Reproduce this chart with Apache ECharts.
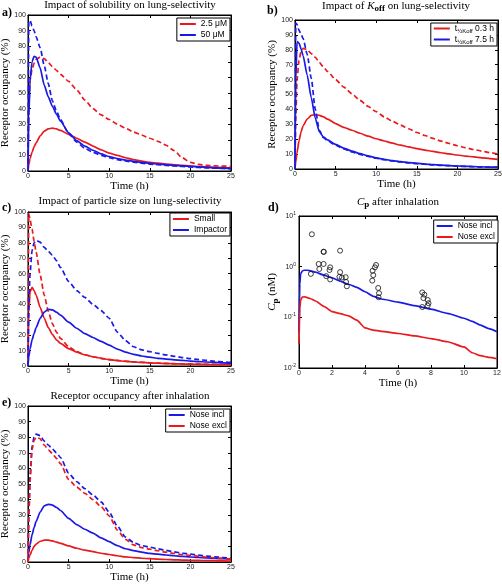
<!DOCTYPE html>
<html><head><meta charset="utf-8">
<script src="https://cdn.jsdelivr.net/npm/echarts@6/dist/echarts.min.js"></script>
<style>html,body{margin:0;padding:0;background:#fff}#c{width:502px;height:585px}</style>
</head><body><div id="c"></div>
<script>
// ---------- DATA ----------
const timeH = [0,0.1,0.25,0.5,0.75,1,1.5,2,2.5,3,3.5,4,5,6,7,8,9,10,11,12,13,14,15,16,17,18,19,20,21,22,23,24,25];
const timeTicks25 = [0,5,10,15,20,25];
const occTicks = [0,10,20,30,40,50,60,70,80,90,100];

// a) solubility
const aRedSolid  = [0,4,8,12,15.5,18,22.5,25.5,27,27.5,27,26,23.5,21,18.5,16,13.5,11.5,10,8.5,7.3,6.3,5.5,5,4.4,4,3.6,3.2,2.9,2.6,2.4,2.2,2];
const aRedDash   = [0,40,58,65,69,71.5,73,72,69.5,67,64.5,62,57.5,52,45.5,40,36,33,30,27.5,25,23,21,19,16.5,13,8.5,5.5,4.2,3.6,3.3,3.1,3];
const aBlueSolid = [0,35,58,70,73.5,73,66,55,47.5,41.5,36.5,32,24.5,19.5,16,13.3,11,9.3,8,7,6.2,5.5,4.9,4.4,4,3.6,3.3,3,2.6,2.3,2,1.8,1.6];
const aBlueDash  = [0,96,96.5,93,90,86,79,67.5,56,45,38.5,33,24,18.5,14.5,12,10,8.5,7.3,6.4,5.6,5,4.4,4,3.6,3.2,2.9,2.6,2.3,2,1.8,1.6,1.4];

// b) Koff
const bRedSolid  = [0,5,11,19,25,29,33.5,36,36.5,36,35,33.5,30.5,28,26,24,22,20.3,18.8,17.3,16,14.8,13.7,12.7,11.8,10.9,10.1,9.4,8.7,8.1,7.5,7,6.5];
const bRedDash   = [0,35,60,73,79,81,80,77.5,75,71.5,68.5,65.5,60,55,50.5,46,42,38.5,35,32,29.5,27,24.5,22.5,20.5,18.7,17.1,15.6,14.3,13.1,12,11,10];
const bBlueSolid = [0,60,85.5,84.5,80.5,76,63,48,34,25,21.5,19.5,16.5,14,12,10.3,8.8,7.5,6.5,5.6,4.9,4.3,3.8,3.3,2.9,2.6,2.3,2,1.8,1.6,1.4,1.3,1.2];
const bBlueDash  = [0,98,97,93,90.5,87.5,77,61,40,26,21,19,16,13.5,11.5,9.8,8.4,7.2,6.2,5.4,4.7,4.1,3.6,3.2,2.8,2.5,2.2,1.9,1.7,1.5,1.3,1.2,1.1];

// c) particle size
const cRedSolid  = [0,35,48,51,49,46,38,31,25,20.5,17,14.7,11.3,9,7.3,6,5,4.1,3.5,3,2.6,2.3,2,1.8,1.6,1.4,1.3,1.2,1.1,1,0.9,0.8,0.8];
const cRedDash   = [0,99,95,89,81,74,59,46,35.5,27.5,22,18,12.5,9.3,7.3,6,5,4.2,3.6,3.1,2.7,2.4,2.1,1.9,1.7,1.5,1.4,1.3,1.2,1.1,1,0.9,0.8];
const cBlueSolid = [0,6,11,17,21,25,31,35,36.8,36.5,35,33,28.5,24.5,21,18.5,16,13.5,11,9,7.6,6.5,5.7,5,4.5,4,3.6,3.2,2.9,2.6,2.3,2,1.8];
const cBlueDash  = [0,40,60,75,80,81.5,80.5,77,74.5,72,68.5,64,55,49,44.5,40,36,31,22,16.5,12.5,10.5,9.3,8.2,7.2,6.3,5.5,4.8,4.2,3.6,3.1,2.7,2.3];

// d) Cp after inhalation (log scale)
const dTime      = [0,0.05,0.1,0.2,0.3,0.5,0.75,1,1.5,2,2.5,3,3.5,4,4.5,5,6,7,8,9,10,10.5,11,11.5,12];
const dNoseIncl  = [0.05,0.45,0.72,0.82,0.85,0.85,0.82,0.78,0.68,0.6,0.52,0.45,0.39,0.32,0.26,0.23,0.2,0.17,0.145,0.12,0.096,0.083,0.07,0.06,0.052];
const dNoseExcl  = [0.03,0.15,0.22,0.25,0.255,0.245,0.23,0.21,0.165,0.13,0.118,0.107,0.088,0.062,0.056,0.053,0.048,0.043,0.038,0.033,0.026,0.02,0.0175,0.0162,0.0152];
const dObsTime   = [0.78,0.72,1.19,1.23,1.49,1.5,1.49,1.65,1.89,1.85,1.89,2.49,2.49,2.45,2.6,2.83,2.85,2.9,4.46,4.5,4.44,4.6,4.67,4.8,4.85,4.82,7.47,7.6,7.54,7.8,7.85,7.8,7.47];
const dObsConc   = [4.36,0.72,1.13,0.90,1.98,1.95,1.13,0.65,0.97,0.86,0.56,2.07,0.78,0.63,0.61,0.62,0.50,0.41,0.83,0.68,0.53,0.97,1.08,0.38,0.30,0.25,0.31,0.28,0.24,0.22,0.19,0.17,0.16];
const dTimeTicks = [0,2,4,6,8,10,12];

// e) RO after inhalation
const eBlueSolid = [0,6,11,17.5,22,26,32,36,37,36.5,35,33,28,24,21,18.5,15.5,13,10.5,8.5,7.3,6.3,5.5,5,4.5,4,3.6,3.2,2.9,2.6,2.3,2.1,1.9];
const eBlueDash  = [0,30,55,74,80,82,81,77.5,75,72.5,70,67,57,51.5,47,43,38.5,32,23,16,12.5,10.5,9.5,8.4,7.4,6.5,5.7,5,4.4,3.8,3.3,2.9,2.5];
const eRedSolid  = [0,2.5,4.5,7.5,10,11.5,13.3,14,14,13.5,12.8,12,10.3,8.8,7.6,6.6,5.6,4.8,4,3.3,2.8,2.4,2.1,1.8,1.6,1.4,1.2,1.1,1,0.9,0.8,0.7,0.6];
const eRedDash   = [0,28,52,72,78,80,79,75,72,69.5,66.5,63,53,48,44,40,35.5,29.5,20.5,14.5,11,9.2,8.2,7.2,6.3,5.5,4.8,4.2,3.6,3.1,2.7,2.3,2];

// ---------- STYLE ----------
const RED = 'rgb(232,26,30)', BLUE = 'rgb(26,26,228)';
const SERIF = 'Liberation Serif', SANS = 'Liberation Sans';

const grids = [
  {left:28, top:15, width:203, height:156},
  {left:295, top:20, width:203, height:149},
  {left:28, top:212, width:203, height:154},
  {left:299, top:216, width:198, height:152},
  {left:28, top:406, width:203, height:156}
].map(g => Object.assign({show:true, borderColor:'#000', borderWidth:1, backgroundColor:'#fff', outerBoundsMode:'none', containLabel:false}, g));

const tickStyle = {show:true, inside:true, length:3, lineStyle:{color:'#000', width:1}};
const lineAx = {show:true, onZero:false, lineStyle:{color:'#000', width:1}};
const labStyle = {fontSize:7, fontFamily:SANS, color:'#222'};
const nameStyle = {fontFamily:SERIF, fontSize:11, color:'#000'};

const xAxis = [], yAxis = [];
const xTicksPer = [timeTicks25, timeTicks25, timeTicks25, dTimeTicks, timeTicks25];
for (let i = 0; i < 5; i++) {
  const ticks = xTicksPer[i];
  const min = ticks[0], max = ticks[ticks.length-1], interval = ticks[1]-ticks[0];
  xAxis.push({type:'value', gridIndex:i, min, max, interval, position:'bottom',
    name:'Time (h)', nameLocation:'middle', nameGap:8, nameTextStyle:nameStyle,
    axisLine:lineAx, axisTick:tickStyle, axisLabel:Object.assign({margin:2}, labStyle), splitLine:{show:false}});
  xAxis.push({type:'value', gridIndex:i, min, max, interval, position:'top',
    axisLine:lineAx, axisTick:tickStyle, axisLabel:{show:false}, splitLine:{show:false}});
  if (i === 3) {
    const yl = {type:'log', logBase:10, gridIndex:i, min:0.01, max:10};
    yAxis.push(Object.assign({}, yl, {position:'left',
      name:'{i|C}{s|p}{n| (nM)}', nameLocation:'middle', nameRotate:90, nameGap:16,
      nameTextStyle:Object.assign({}, nameStyle, {rich:{
        i:{fontFamily:SERIF, fontSize:11, fontStyle:'italic'},
        s:{fontFamily:SERIF, fontSize:9, fontWeight:'bold', padding:[6,0,0,0]},
        n:{fontFamily:SERIF, fontSize:11}}}),
      axisLine:lineAx, axisTick:tickStyle, splitLine:{show:false},
      axisLabel:Object.assign({margin:3, formatter: v => '10{s|' + Math.round(Math.log10(v)) + '}',
        rich:{s:{fontSize:5, fontFamily:SANS, color:'#222', padding:[0,0,5,0]}}}, labStyle)}));
    yAxis.push(Object.assign({}, yl, {position:'right', axisLine:lineAx, axisTick:tickStyle, axisLabel:{show:false}, splitLine:{show:false}}));
  } else {
    const yl = {type:'value', gridIndex:i, min:occTicks[0], max:occTicks[occTicks.length-1], interval:occTicks[1]-occTicks[0]};
    yAxis.push(Object.assign({}, yl, {position:'left',
      name:'Receptor occupancy (%)', nameLocation:'middle', nameRotate:90, nameGap:16, nameTextStyle:nameStyle,
      axisLine:lineAx, axisTick:tickStyle, axisLabel:Object.assign({margin:2}, labStyle), splitLine:{show:false}}));
    yAxis.push(Object.assign({}, yl, {position:'right', axisLine:lineAx, axisTick:tickStyle, axisLabel:{show:false}, splitLine:{show:false}}));
  }
}

function pairs(x, y) { return x.map((t, k) => [t, y[k]]); }
function line(p, name, x, y, color, dashed) {
  return {type:'line', name, xAxisIndex:2*p, yAxisIndex:2*p, data:pairs(x, y),
    showSymbol:false, symbol:'none', smooth:0.2, smoothMonotone:'x',
    itemStyle:{color}, lineStyle:{color, width:1.7, type: dashed ? [5,3] : 'solid'},
    animation:false, z:2};
}

const series = [
  line(0,'2.5 μM',timeH,aRedSolid,RED,false),
  line(0,'a-red-dash',timeH,aRedDash,RED,true),
  line(0,'50 μM',timeH,aBlueSolid,BLUE,false),
  line(0,'a-blue-dash',timeH,aBlueDash,BLUE,true),
  line(1,'tK0.3',timeH,bRedSolid,RED,false),
  line(1,'b-red-dash',timeH,bRedDash,RED,true),
  line(1,'tK7.5',timeH,bBlueSolid,BLUE,false),
  line(1,'b-blue-dash',timeH,bBlueDash,BLUE,true),
  line(2,'Small',timeH,cRedSolid,RED,false),
  line(2,'c-red-dash',timeH,cRedDash,RED,true),
  line(2,'Impactor',timeH,cBlueSolid,BLUE,false),
  line(2,'c-blue-dash',timeH,cBlueDash,BLUE,true),
  line(3,'Nose incl',dTime,dNoseIncl,BLUE,false),
  line(3,'Nose excl',dTime,dNoseExcl,RED,false),
  {type:'scatter', name:'obs', xAxisIndex:6, yAxisIndex:6, data:pairs(dObsTime, dObsConc),
    symbol:'circle', symbolSize:5, itemStyle:{color:'rgba(255,255,255,0)', borderColor:'#111', borderWidth:1}, z:3, animation:false},
  line(4,'Nose incl',timeH,eBlueSolid,BLUE,false),
  line(4,'e-blue-dash',timeH,eBlueDash,BLUE,true),
  line(4,'Nose excl',timeH,eRedSolid,RED,false),
  line(4,'e-red-dash',timeH,eRedDash,RED,true)
];

const legendBase = {orient:'vertical', icon:'rect', itemWidth:16, itemHeight:2, itemGap:1,
  padding:[1,3,1,3], borderColor:'#000', borderWidth:1, backgroundColor:'#fff', selectedMode:false,
  textStyle:{fontFamily:SANS, fontSize:8.5, color:'#000', lineHeight:10}};
const legend = [
  Object.assign({}, legendBase, {data:['2.5 μM','50 μM'], right:272, top:18}),
  Object.assign({}, legendBase, {data:['tK0.3','tK7.5'], right:5, top:23,
    formatter: n => '{n|t}{s|½Koff}{n| ' + n.slice(2) + ' h}',
    textStyle:{fontFamily:SANS, fontSize:8.5, color:'#000', rich:{
      n:{fontFamily:SANS, fontSize:8.5, color:'#000'},
      s:{fontFamily:SANS, fontSize:6, color:'#000', padding:[5,0,0,0]}}}}),
  Object.assign({}, legendBase, {data:['Small','Impactor'], right:272, top:213}),
  Object.assign({}, legendBase, {data:['Nose incl','Nose excl'], right:4, top:220}),
  Object.assign({}, legendBase, {data:['Nose incl','Nose excl'], right:272, top:409})
];

function gText(x, y, text, extra) {
  return {type:'text', x, y, silent:true, style:Object.assign({text, fill:'#000',
    fontFamily:SERIF, fontSize:11, textAlign:'center', align:'center', textVerticalAlign:'middle', verticalAlign:'middle'}, extra || {})};
}
const subRich = {
  n:{fontFamily:SERIF, fontSize:11},
  i:{fontFamily:SERIF, fontSize:11, fontStyle:'italic'},
  s:{fontFamily:SERIF, fontSize:9, fontWeight:'bold', padding:[6,0,0,0]}
};
const letter = {fontWeight:'bold', fontSize:12, textAlign:'left', align:'left'};
const graphic = [
  gText(130, 5, 'Impact of solubility on lung-selectivity'),
  gText(396, 6, '{n|Impact of }{i|K}{s|off}{n| on lung-selectivity}', {rich:subRich}),
  gText(130, 201, 'Impact of particle size on lung-selectivity'),
  gText(398, 202, '{i|C}{s|p}{n| after inhalation}', {rich:subRich}),
  gText(130, 396, 'Receptor occupancy after inhalation'),
  gText(2, 13, 'a)', letter),
  gText(267, 11, 'b)', letter),
  gText(2, 208, 'c)', letter),
  gText(268, 208, 'd)', letter),
  gText(2, 403, 'e)', letter)
];

const chart = echarts.init(document.getElementById('c'), null, {renderer:'canvas'});
chart.setOption({animation:false, backgroundColor:'#fff', grid:grids, xAxis, yAxis, series, legend, graphic});
</script>
</body></html>
